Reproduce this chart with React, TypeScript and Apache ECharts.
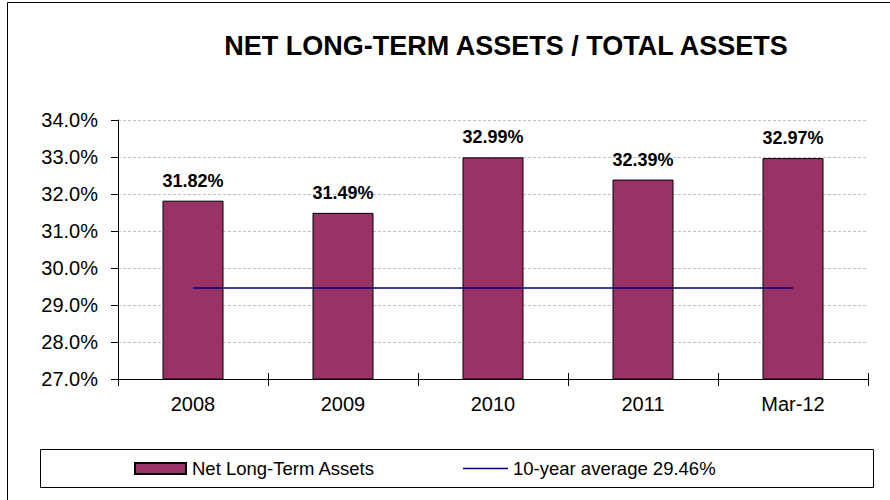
import React, { useEffect, useRef } from "react";
import * as echarts from "echarts";

const categories = ["2008", "2009", "2010", "2011", "Mar-12"];
const netLongTermAssets = [31.82, 31.49, 32.99, 32.39, 32.97];
const tenYearAverage = [29.46, 29.46, 29.46, 29.46, 29.46];
const yTickMin = 27;
const yTickMax = 34;
const yTickStep = 1;
const titleText = "NET LONG-TERM ASSETS / TOTAL ASSETS";
const barName = "Net Long-Term Assets";
const lineName = "10-year average 29.46%";

export default function App() {
  const ref = useRef<HTMLDivElement>(null);
  useEffect(() => {
    if (!ref.current) return;
    const chart = echarts.init(ref.current, undefined, { renderer: "svg" });
    const font = "Arial, 'Liberation Sans', sans-serif";
    chart.setOption({
      animation: false,
      backgroundColor: "#ffffff",
      textStyle: { fontFamily: font },
      title: {
        text: titleText,
        left: 501,
        top: 27,
        textAlign: "center",
        textStyle: { fontFamily: font, fontSize: 27, fontWeight: "bold", color: "#000" },
      },
      graphic: [
        {
          type: "rect",
          shape: { x: 7.5, y: 2.5, width: 900, height: 600 },
          style: { fill: "none", stroke: "#000", lineWidth: 1 },
          silent: true,
          z: -1,
        },
        {
          type: "rect",
          shape: { x: 40.5, y: 449.5, width: 833, height: 38 },
          style: { fill: "none", stroke: "#000", lineWidth: 1 },
          silent: true,
          z: -1,
        },
      ],
      legend: [
        {
          data: [{ name: barName, icon: "rect" }],
          left: 134,
          top: 459,
          itemWidth: 51,
          itemHeight: 11,
          itemGap: 6,
          padding: 0,
          textStyle: { fontFamily: font, fontSize: 18.5, color: "#000", padding: [0, 0, 0, 1] },
          selectedMode: false,
        },
        {
          data: [
            {
              name: lineName,
              icon: "rect",
              itemStyle: { color: "#000080", borderWidth: 0 },
            },
          ],
          left: 463,
          top: 459,
          itemWidth: 45,
          itemHeight: 1.5,
          padding: 0,
          textStyle: { fontFamily: font, fontSize: 18.5, color: "#000" },
          selectedMode: false,
        },
      ],
      grid: { left: 118, right: 22, top: 120, bottom: 121, containLabel: false },
      xAxis: [
        {
          type: "category",
          data: categories,
          axisLine: { lineStyle: { color: "#000", width: 1 } },
          axisTick: { show: true, length: 7, lineStyle: { color: "#000" } },
          axisLabel: { fontFamily: font, fontSize: 20, color: "#000", margin: 15 },
        },
        {
          type: "category",
          data: categories,
          position: "bottom",
          axisLine: { show: false },
          axisTick: { show: true, inside: true, length: 6, lineStyle: { color: "#000" } },
          axisLabel: { show: false },
        },
      ],
      yAxis: {
        type: "value",
        min: yTickMin,
        max: yTickMax,
        interval: yTickStep,
        axisLine: { show: true, lineStyle: { color: "#000", width: 1 } },
        axisTick: { show: true, length: 7, lineStyle: { color: "#000" } },
        axisLabel: {
          fontFamily: font,
          fontSize: 20,
          color: "#000",
          margin: 20,
          formatter: (v: number) => v.toFixed(1) + "%",
        },
        splitLine: { show: true, lineStyle: { color: "#c0c0c0", type: [3, 2], width: 1 } },
      },
      series: [
        {
          name: barName,
          type: "bar",
          data: netLongTermAssets,
          barWidth: 61,
          itemStyle: { color: "#993366", borderColor: "#000", borderWidth: 1 },
          label: {
            show: true,
            position: "top",
            distance: 11,
            fontFamily: font,
            fontSize: 18,
            fontWeight: "bold",
            color: "#000",
            formatter: (p: any) => p.value.toFixed(2) + "%",
          },
        },
        {
          name: lineName,
          type: "line",
          data: tenYearAverage,
          symbol: "none",
          lineStyle: { color: "#000080", width: 1.5 },
          itemStyle: { color: "#000080" },
        },
      ],
    });
    return () => chart.dispose();
  }, []);
  return <div ref={ref} style={{ position: "fixed", left: 0, top: 0, width: 890, height: 500 }} />;
}
